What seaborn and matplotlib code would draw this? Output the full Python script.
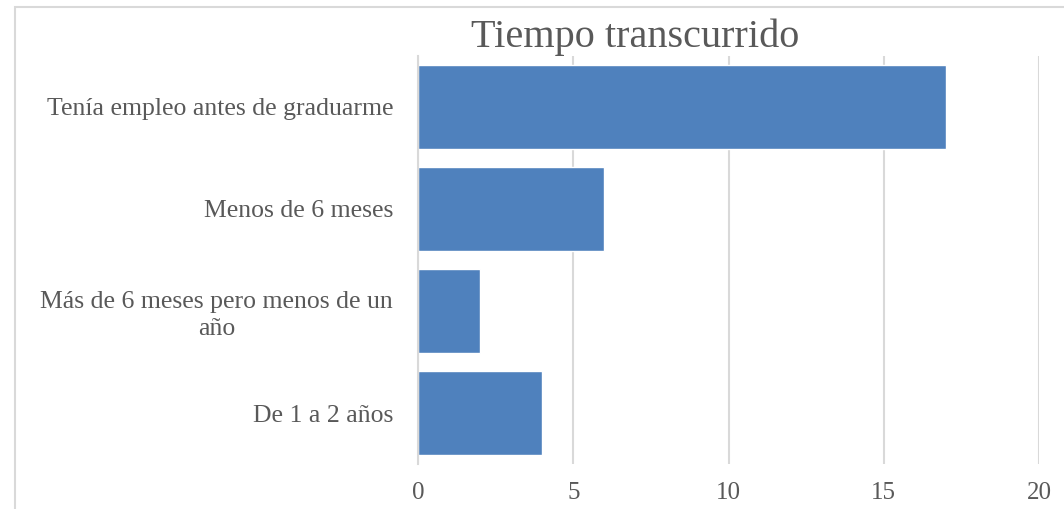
import matplotlib
matplotlib.use("Agg")
import matplotlib.pyplot as plt
import seaborn as sns
import pandas as pd
from matplotlib.patches import Rectangle

categorias = ["Tenía empleo antes de graduarme", "Menos de 6 meses",
              "Más de 6 meses pero menos de un\naño", "De 1 a 2 años"]
valores = [17, 6, 2, 4]
ticks_x = [0, 5, 10, 15, 20]

sns.set_style("white")
plt.rcParams['font.family'] = ['Liberation Serif', 'DejaVu Serif']

df = pd.DataFrame({"categoria": categorias, "valor": valores})

fig = plt.figure(figsize=(10.64, 5.09), dpi=100)
ax = fig.add_axes([0.3929, 0.0884, 0.5836, 0.8016])

sns.barplot(data=df, x="valor", y="categoria", color="#4F81BD",
            saturation=1, width=0.83, ax=ax)

ax.set_xlim(0, 20)
ax.set_xticks(ticks_x)
ax.xaxis.grid(True, color="#D9D9D9", linewidth=1.5)
ax.set_axisbelow(True)
for s in ["top", "right", "bottom"]:
    ax.spines[s].set_visible(False)
ax.spines["left"].set_color("#D9D9D9")
ax.spines["left"].set_linewidth(1.5)
ax.set_xlabel("")
ax.set_ylabel("")
ax.tick_params(axis="y", length=0, pad=18, labelsize=18.5, labelcolor="#595959")
ax.tick_params(axis="x", length=0, pad=13, labelsize=18, labelcolor="#595959")
for lab in ax.get_yticklabels():
    lab.set_multialignment("center")
    lab.set_linespacing(1.25)

fig.text(635 / 1064, 1 - 37 / 509, "Tiempo transcurrido", ha="center", va="center",
         fontsize=29, color="#595959")

# chart border (only the top/left edges are inside the picture)
fig.patches.append(Rectangle((15 / 1064, -0.1), 1.2, 1 - 7 / 509 + 0.1,
                             transform=fig.transFigure, fill=False,
                             edgecolor="#D9D9D9", linewidth=1.5))

fig.savefig("out.png", dpi=100)
